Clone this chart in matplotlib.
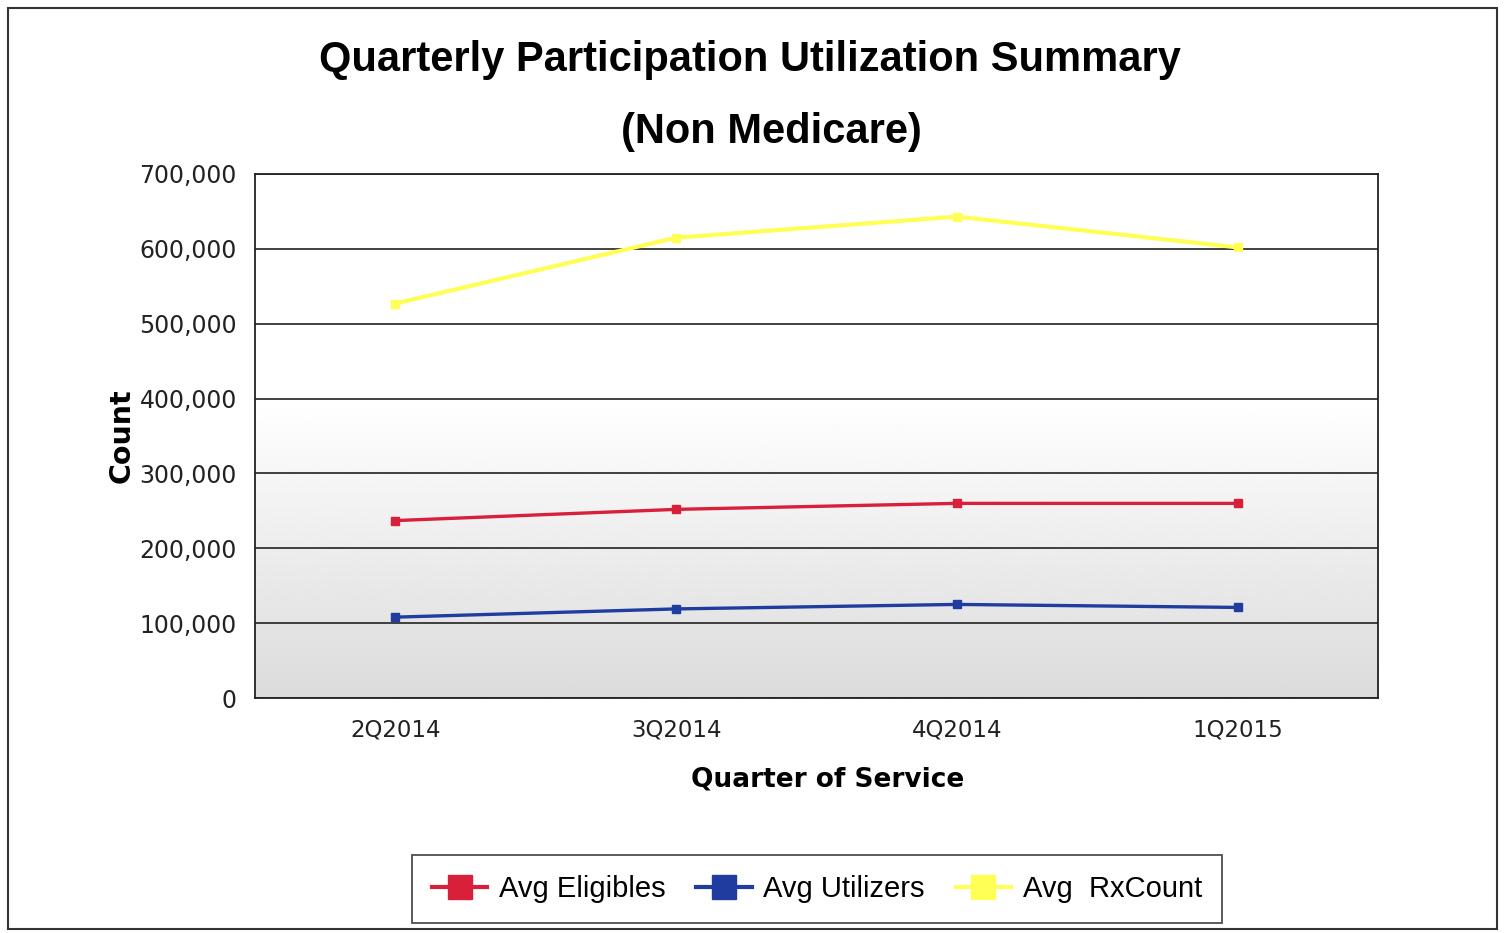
import matplotlib
matplotlib.use("Agg")
import matplotlib.pyplot as plt
import numpy as np
from matplotlib.patches import Rectangle
from matplotlib.lines import Line2D
from matplotlib.ticker import FuncFormatter

quarters = ["2Q2014", "3Q2014", "4Q2014", "1Q2015"]
avg_eligibles = [237000, 252000, 260000, 260000]
avg_utilizers = [108000, 119000, 125000, 121000]
avg_rxcount = [527000, 615000, 643000, 602000]
series_names = ["Avg Eligibles", "Avg Utilizers", "Avg  RxCount"]
series_colors = ["#d8203a", "#1f3c9e", "#ffff55"]
y_ticks = [0, 100000, 200000, 300000, 400000, 500000, 600000, 700000]

fig = plt.figure(figsize=(15.06, 9.33), dpi=100)
fig.patch.set_facecolor("white")
ax = fig.add_axes([255/1506, 1-698/933, (1378-255)/1506, (698-174)/933])

# gradient background
t = np.linspace(0, 1, 256)  # 0 bottom -> 1 top
vals = np.where(t > 0.57, 1.0, 0.86 + (t / 0.57) * 0.14)
grad = vals.reshape(-1, 1)
ax.imshow(grad, extent=[0, 1, 0, 1], transform=ax.transAxes, origin="lower",
          cmap="gray", vmin=0, vmax=1, aspect="auto", zorder=0)

x = np.arange(len(quarters))
for vals_, name, col in zip([avg_eligibles, avg_utilizers, avg_rxcount], series_names, series_colors):
    lw = 3.0 if col == "#ffff55" else 2.4
    ax.plot(x, vals_, color=col, lw=lw, marker="s", ms=6, label=name, zorder=3)

ax.set_xlim(-0.5, len(quarters) - 0.5)
ax.set_ylim(0, 700000)
ax.set_yticks(y_ticks)
ax.yaxis.set_major_formatter(FuncFormatter(lambda v, p: f"{int(v):,}"))
ax.set_xticks(x)
ax.set_xticklabels(quarters)
ax.grid(axis="y", color="#222222", lw=1.2, zorder=1)
ax.set_axisbelow(True)
ax.tick_params(axis="y", length=0, labelsize=17, colors="#222222", pad=13)
ax.tick_params(axis="x", length=0, labelsize=16.5, colors="#222222", pad=15)
for s in ax.spines.values():
    s.set_color("#222222")
    s.set_linewidth(1.3)

ax.set_ylabel("Count", fontsize=20.5, fontweight="bold")
ax.yaxis.set_label_coords((136 - 255) / 1123, 0.5)
ax.set_xlabel("Quarter of Service", fontsize=19, fontweight="bold")
ax.xaxis.set_label_coords((828 - 255) / 1123, -(767 - 698) / 524)

fig.text(750/1506, 1-60/933, "Quarterly Participation Utilization Summary",
         ha="center", va="center", fontsize=30, fontweight="bold", family="Liberation Sans")
fig.text(771/1506, 1-132/933, "(Non Medicare)",
         ha="center", va="center", fontsize=30, fontweight="bold", family="Liberation Sans")

handles = [Line2D([], [], color=c, lw=3, marker="s", ms=17) for c in series_colors]
leg = fig.legend(handles, series_names, loc="center", bbox_to_anchor=(817/1506, 1-889/933),
                 ncol=3, frameon=True, fancybox=False, edgecolor="#222222",
                 prop={"family": "Liberation Sans", "size": 21},
                 handlelength=1.9, handletextpad=0.4, columnspacing=1.05,
                 borderpad=0.7)
leg.get_frame().set_linewidth(1.3)

fig.patches.append(Rectangle((8/1506, 0.004), (1497-8)/1506, 1-8/933-0.004,
                             transform=fig.transFigure, fill=False,
                             edgecolor="#333333", lw=1.5))

fig.savefig("out.png", dpi=100)
